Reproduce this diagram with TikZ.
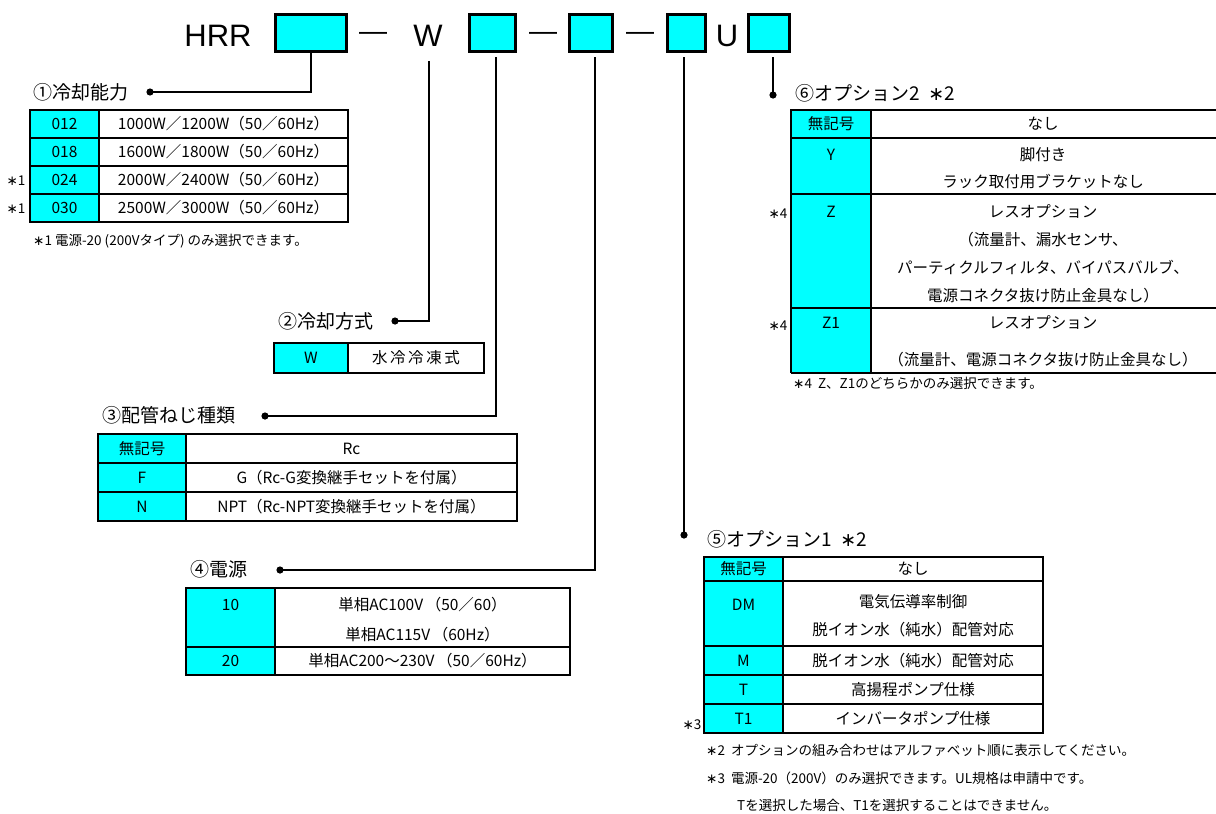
\documentclass[tikz,border=0pt]{standalone}
\usepackage{fontspec}
\setmainfont{Noto Sans CJK JP}
\newfontfamily\hrrfont{Liberation Sans}
\newfontfamily\symfont{DejaVu Sans}
\newcommand\stk{{\symfont ∗}}
\definecolor{keycyan}{RGB}{0,255,255}

\tikzset{
  codebox/.style={draw, line width=3pt, fill=keycyan, inner sep=0pt, minimum height=37pt},
  hdr/.style={font=\hrrfont\fontsize{31}{31}\selectfont, inner sep=0pt, text height=22.2pt, text depth=0pt},
  dashmark/.style={font=\hrrfont\fontsize{28}{28}\selectfont, inner sep=0pt},
  conn/.style={line width=2.6pt},
  thinconn/.style={line width=1.7pt},
  lbl/.style={font=\fontsize{19}{19}\selectfont, inner sep=0pt, anchor=west, text height=16.7pt, text depth=2.3pt},
  cell/.style={font=\fontsize{15.5}{15.5}\selectfont, inner sep=0pt, text height=13.6pt, text depth=1.9pt},
  note/.style={font=\fontsize{13.5}{13.5}\selectfont, inner sep=0pt, anchor=west, text height=11.9pt, text depth=1.6pt},
  frame/.style={line width=2.6pt},
  rule/.style={line width=1.8pt}
}

\begin{document}
\begin{tikzpicture}[x=1pt,y=-1pt]
  \useasboundingbox (0,0) rectangle (1216,814);

  % model number
  \node[hdr] (hrr) at (218,35.5) {HRR};
  \node[codebox, minimum width=71pt] (cap) at (311,33) {};
  \node[dashmark] (dsh1) at (373,36) {—};
  \node[hdr] (wlet) at (428,35.5) {W};
  \node[codebox, minimum width=46pt] (pipe) at (492.5,33) {};
  \node[dashmark] (dsh2) at (543,36) {—};
  \node[codebox, minimum width=43pt] (pwr) at (591,33) {};
  \node[dashmark] (dsh3) at (640,36) {—};
  \node[codebox, minimum width=38pt] (opta) at (686.5,33) {};
  \node[hdr] (ulet) at (727,35.5) {U};
  \node[codebox, minimum width=41pt] (optb) at (769,33) {};

  % leader lines
  \coordinate (d1) at (150,92);
  \coordinate (d2) at (395,321);
  \coordinate (d3) at (265,416);
  \coordinate (d4) at (280,570);
  \coordinate (d5) at (684,535);
  \coordinate (d6) at (773,95);
  \draw[conn] (cap.south) |- (d1);
  \draw[conn] ([xshift=1pt,yshift=-14pt]wlet.south) |- (d2);
  \draw[conn] ([xshift=3.5pt,yshift=-4pt]pipe.south) |- (d3);
  \draw[conn] ([xshift=4pt,yshift=-4pt]pwr.south) |- (d4);
  \draw[thinconn] ([xshift=-2.5pt,yshift=-4pt]opta.south) -- (d5);
  \draw[thinconn] ([xshift=4pt,yshift=-4pt]optb.south) -- (d6);
  \foreach \d in {d1,d2,d3,d4,d5,d6}
    \fill (\d) circle (3.6pt);

  % 1 cooling capacity
  \node[lbl] (lcap) at (33,92) {①冷却能力};
  \fill[keycyan] (30,110) rectangle (99,222);
  \draw[rule] (30,138) -- (348,138) (30,166) -- (348,166) (30,194) -- (348,194);
  \draw[frame] (30,110) rectangle (348,222) (99,110) -- (99,222);
  \node[cell] (c012) at (64.5,124) {012};
  \node[cell] (c018) at (64.5,152) {018};
  \node[cell] (c024) at (64.5,180) {024};
  \node[cell] (c030) at (64.5,208) {030};
  \node[cell] (w012) at (223.5,124) {1000W／1200W（50／60Hz）};
  \node[cell] (w018) at (223.5,152) {1600W／1800W（50／60Hz）};
  \node[cell] (w024) at (223.5,180) {2000W／2400W（50／60Hz）};
  \node[cell] (w030) at (223.5,208) {2500W／3000W（50／60Hz）};
  \node[note, anchor=center] (s024) at (16,180) {\stk1};
  \node[note, anchor=center] (s030) at (16,208) {\stk1};
  \node[note] (n1) at (33,240) {\stk1 電源-20 (200Vタイプ) のみ選択できます。};

  % 2 cooling method
  \node[lbl] (lcool) at (278,321) {②冷却方式};
  \fill[keycyan] (274,343) rectangle (348,373);
  \draw[frame] (274,343) rectangle (484,373) (348,343) -- (348,373);
  \node[cell] (cw) at (311,358) {W};
  \node[cell] (ww) at (416,358) {水\,冷\,冷\,凍\,式};

  % 3 pipe thread
  \node[lbl] (lpipe) at (102,415) {③配管ねじ種類};
  \fill[keycyan] (98,434) rectangle (186,521);
  \draw[rule] (98,463) -- (517,463) (98,492) -- (517,492);
  \draw[frame] (98,434) rectangle (517,521) (186,434) -- (186,521);
  \node[cell] (cnone3) at (142,448.5) {無記号};
  \node[cell] (cf) at (142,477.5) {F};
  \node[cell] (cn) at (142,506.5) {N};
  \node[cell] (wnone3) at (351.5,448.5) {Rc};
  \node[cell] (wf) at (351.5,477.5) {G（Rc-G変換継手セットを付属）};
  \node[cell] (wn) at (351.5,506.5) {NPT（Rc-NPT変換継手セットを付属）};

  % 4 power supply
  \node[lbl] (lpwr) at (190,569) {④電源};
  \fill[keycyan] (186,588) rectangle (275,675);
  \draw[rule] (186,647) -- (570,647);
  \draw[frame] (186,588) rectangle (570,675) (275,588) -- (275,675);
  \node[cell] (c10) at (230.5,605) {10};
  \node[cell] (c20) at (230.5,661) {20};
  \node[cell] (w10a) at (422.5,605) {単相AC100V\,（50／60）};
  \node[cell] (w10b) at (422.5,635) {単相AC115V\,（60Hz）};
  \node[cell] (w20) at (422.5,661) {単相AC200～230V\,（50／60Hz）};

  % 5 option 1
  \node[lbl] (lopta) at (707,539) {⑤オプション1\ \ \stk2};
  \fill[keycyan] (704,557) rectangle (783,733);
  \draw[rule] (704,581) -- (1043,581) (704,646) -- (1043,646) (704,675) -- (1043,675) (704,704) -- (1043,704);
  \draw[frame] (704,557) rectangle (1043,733) (783,557) -- (783,733);
  \node[cell] (cnone5) at (743.5,569) {無記号};
  \node[cell] (cdm) at (743.5,605) {DM};
  \node[cell] (cm) at (743.5,660.5) {M};
  \node[cell] (ct) at (743.5,689.5) {T};
  \node[cell] (ct1) at (743.5,718.5) {T1};
  \node[cell] (wnone5) at (913,569) {なし};
  \node[cell] (wdma) at (913,602) {電気伝導率制御};
  \node[cell] (wdmb) at (913,630) {脱イオン水（純水）配管対応};
  \node[cell] (wm) at (913,660.5) {脱イオン水（純水）配管対応};
  \node[cell] (wt) at (913,689.5) {高揚程ポンプ仕様};
  \node[cell] (wt1) at (913,718.5) {インバータポンプ仕様};
  \node[note, anchor=center] (st1) at (692,724) {\stk3};
  \node[note] (n2) at (706,750) {\stk2\ \ オプションの組み合わせはアルファベット順に表示してください。};
  \node[note] (n3) at (706,778) {\stk3\ \ 電源-20（200V）のみ選択できます。UL規格は申請中です。};
  \node[note] (n3b) at (737,805) {Tを選択した場合、T1を選択することはできません。};

  % 6 option 2
  \node[lbl] (loptb) at (795,93) {⑥オプション2\ \ \stk2};
  \fill[keycyan] (791,110) rectangle (871,373);
  \draw[rule] (791,138) -- (1222,138) (791,194) -- (1222,194) (791,308) -- (1222,308);
  \draw[line width=1.2pt] (791,373) -- (1222,373);
  \draw[frame] (1222,110) -- (791,110) -- (791,373) (871,110) -- (871,373);
  \node[cell] (cnone6) at (831,124) {無記号};
  \node[cell] (cy) at (831,155) {Y};
  \node[cell] (cz) at (831,212) {Z};
  \node[cell] (cz1) at (831,323) {Z1};
  \node[cell] (wnone6) at (1043,124) {なし};
  \node[cell] (wya) at (1043,155) {脚付き};
  \node[cell] (wyb) at (1043,182) {ラック取付用ブラケットなし};
  \node[cell] (wza) at (1043,212) {レスオプション};
  \node[cell] (wzb) at (1043,240) {（流量計、漏水センサ、};
  \node[cell] (wzc) at (1043,268) {パーティクルフィルタ、バイパスバルブ、};
  \node[cell] (wzd) at (1043,296) {電源コネクタ抜け防止金具なし）};
  \node[cell] (wz1a) at (1043,323) {レスオプション};
  \node[cell] (wz1b) at (1043,360) {（流量計、電源コネクタ抜け防止金具なし）};
  \node[note, anchor=center] (sz) at (778,213) {\stk4};
  \node[note, anchor=center] (sz1) at (778,325) {\stk4};
  \node[note] (n4) at (793,383) {\stk4\ \ Z、Z1のどちらかのみ選択できます。};
\end{tikzpicture}
\end{document}
